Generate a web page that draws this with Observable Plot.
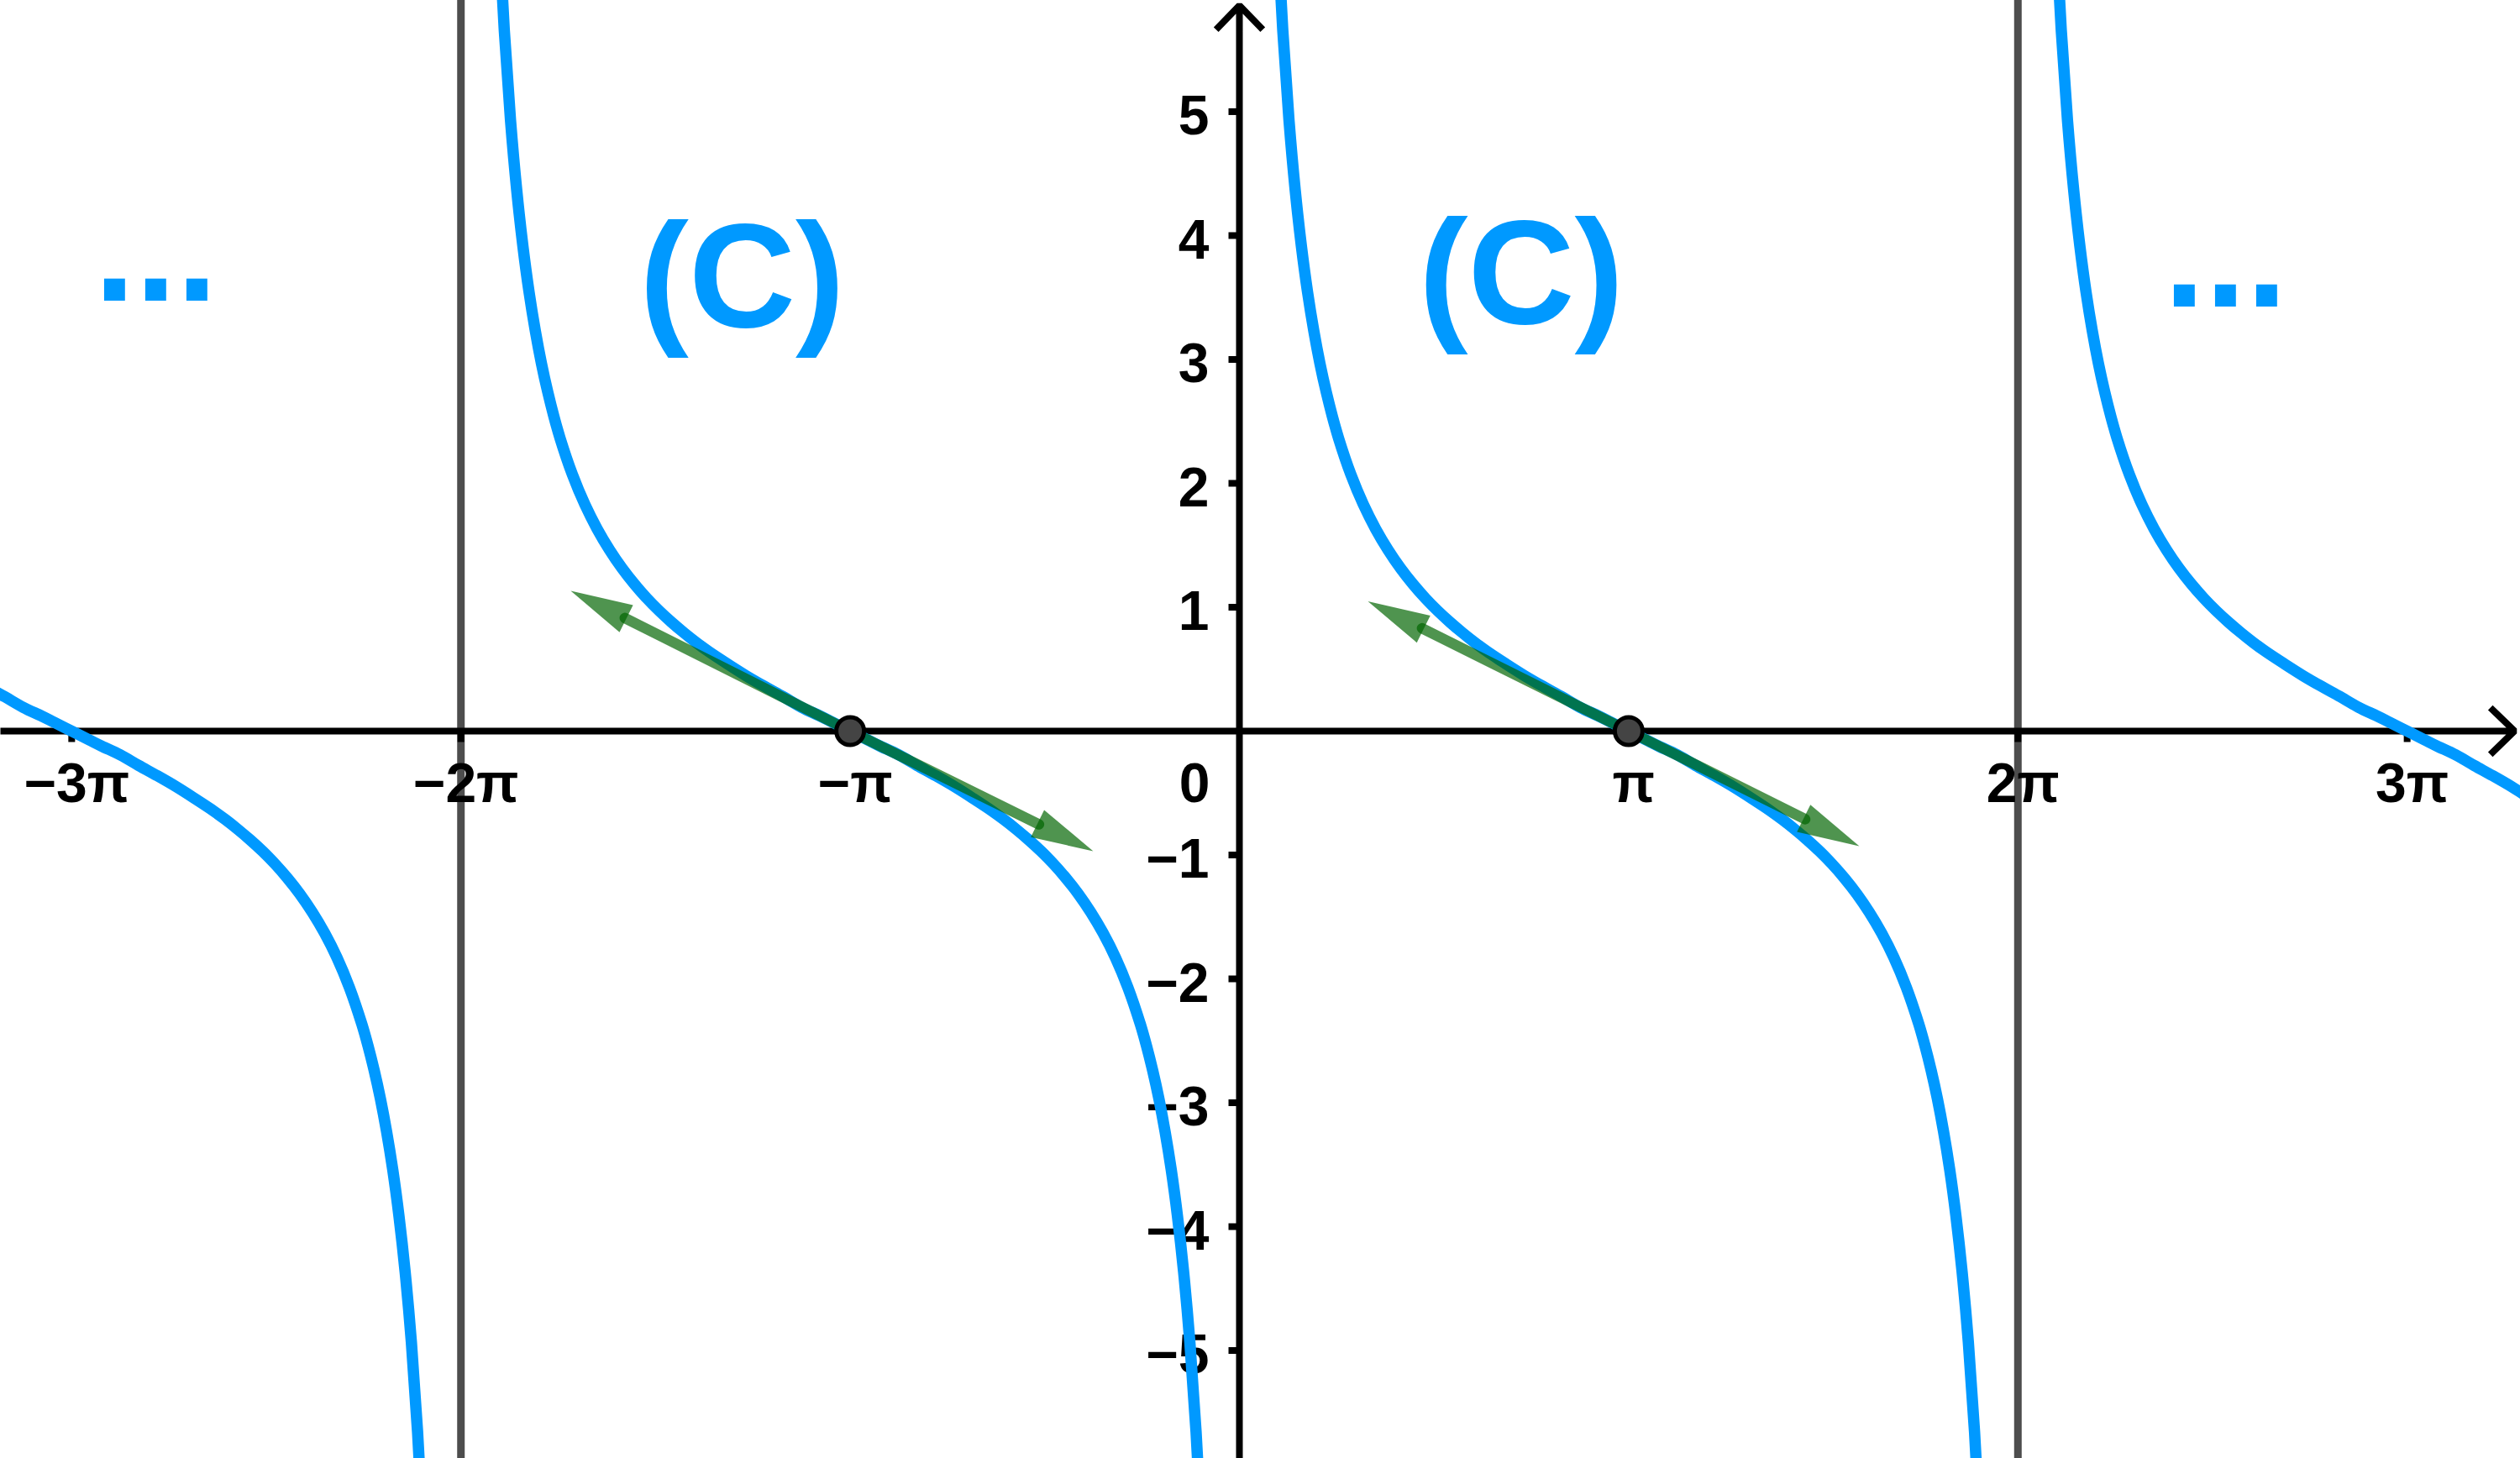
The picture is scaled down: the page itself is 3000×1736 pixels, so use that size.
<!DOCTYPE html>
<html>
<head>
<meta charset="utf-8">
<script src="https://cdn.jsdelivr.net/npm/d3@7"></script>
<script src="https://cdn.jsdelivr.net/npm/@observablehq/plot@0.6"></script>
<style>
  html, body { margin: 0; padding: 0; background: #ffffff; }
  #chart svg { display: block; }
</style>
</head>
<body>
<div id="chart"></div>
<script>
const PI = Math.PI;

const periodX = [0.30, 0.35, 0.40, 0.45, 0.50, 0.55, 0.60, 0.65, 0.70, 0.75, 0.80, 0.90, 1.00, 1.10, 1.20, 1.30, 1.40, 1.50, 1.60, 1.70, 1.80, 1.90, 2.00, 2.15, 2.30, 2.45, 2.60, 2.75, 2.90, 3.00, 3.1416,
  3.2832, 3.3832, 3.5332, 3.6832, 3.8332, 3.9832, 4.1332, 4.2832, 4.3832, 4.4832, 4.5832, 4.6832, 4.7832, 4.8832, 4.9832, 5.0832, 5.1832, 5.2832, 5.3832, 5.4832, 5.5332, 5.5832, 5.6332, 5.6832, 5.7332, 5.7832, 5.8332, 5.8832, 5.9332, 5.9832];
const periodY = [6.616, 5.656, 4.933, 4.369, 3.916, 3.543, 3.233, 2.967, 2.740, 2.541, 2.365, 2.070, 1.830, 1.631, 1.462, 1.315, 1.187, 1.073, 0.971, 0.879, 0.794, 0.715, 0.642, 0.543, 0.448, 0.361, 0.278, 0.192, 0.121, 0.071, 0,
  -0.071, -0.121, -0.192, -0.278, -0.361, -0.448, -0.543, -0.642, -0.715, -0.794, -0.879, -0.971, -1.073, -1.187, -1.315, -1.462, -1.631, -1.830, -2.070, -2.365, -2.541, -2.740, -2.967, -3.233, -3.543, -3.916, -4.369, -4.933, -5.656, -6.616];
// where each visible branch starts (asymptotes)
const branchStarts = [-4 * PI, -2 * PI, 0, 2 * PI];
const asymptoteX = [-2 * PI, 2 * PI];

// Axes
const xDomain = [-10.0, 10.339];
const yDomain = [-5.871, 5.898];
const xTicks = [-3 * PI, -2 * PI, -PI, PI, 2 * PI, 3 * PI];
const xTickLabels = ["−3π", "−2π", "−π", "π", "2π", "3π"];
const yTicks = [-5, -4, -3, -2, -1, 1, 2, 3, 4, 5];
const yTickLabels = ["−5", "−4", "−3", "−2", "−1", "1", "2", "3", "4", "5"];

// Points on the curve and tangent vectors
const pointX = [-PI, PI];
const pointY = [0, 0];
const tangentFromX = [-PI, -PI, PI, PI];
const tangentFromY = [0, 0, 0, 0];
const tangentToX = [-5.397, -1.180, 1.037, 5.003];
const tangentToY = [1.132, -0.969, 1.047, -0.929];

// Text annotations
const noteText = ["...", "(C)", "(C)", "..."];
const noteX = [-8.746, -4.014, 2.275, 7.959];
const noteY = [3.471, 3.261, 3.288, 3.424];

// ---- build tables ----
const curve = [];
branchStarts.forEach((s, b) => {
  periodX.forEach((t, i) => curve.push({branch: b, x: s + t, y: periodY[i]}));
});
const points = pointX.map((x, i) => ({x, y: pointY[i]}));
const tangents = tangentToX.map((x, i) => ({
  x1: tangentFromX[i], y1: tangentFromY[i], x2: x, y2: tangentToY[i]
}));
const notes = noteText.map((t, i) => ({text: t, x: noteX[i], y: noteY[i]}));

// custom symbols
const tickDown = {draw(ctx) { ctx.moveTo(0, 0); ctx.lineTo(0, 13); }};
const tickLeft = {draw(ctx) { ctx.moveTo(0, 0); ctx.lineTo(-13, 0); }};
const HEAD_LEN = 74, HEAD_HALF = 18;
const arrowHead = {draw(ctx) {
  ctx.moveTo(0, 0);
  ctx.lineTo(HEAD_HALF, HEAD_LEN);
  ctx.lineTo(-HEAD_HALF, HEAD_LEN);
  ctx.closePath();
}};

const BLUE = "#0099ff";
const GREEN = "#006400";
const font = "'Liberation Sans', Arial, Helvetica, sans-serif";

const chart = Plot.plot({
  width: 3000,
  height: 1736,
  margin: 0,
  x: {domain: xDomain, axis: null},
  y: {domain: yDomain, axis: null},
  style: {fontFamily: font, background: "#ffffff"},
  marks: [
    Plot.ruleX(asymptoteX, {x: d => d, stroke: "#4d4d4d", strokeWidth: 9}),
    // x axis
    Plot.arrow([{x1: xDomain[0], y1: 0, x2: xDomain[1], y2: 0}], {
      x1: "x1", y1: "y1", x2: "x2", y2: "y2",
      stroke: "black", strokeWidth: 8, headLength: 7.5, headAngle: 88, insetEnd: 7,
      strokeLinecap: "butt", strokeLinejoin: "miter"
    }),
    // y axis
    Plot.arrow([{x1: 0, y1: yDomain[0], x2: 0, y2: yDomain[1]}], {
      x1: "x1", y1: "y1", x2: "x2", y2: "y2",
      stroke: "black", strokeWidth: 8, headLength: 7.5, headAngle: 88, insetEnd: 6,
      strokeLinecap: "butt", strokeLinejoin: "miter"
    }),
    Plot.dot(xTicks, {x: d => d, y: 0, symbol: tickDown, fill: "none", stroke: "black", strokeWidth: 8}),
    Plot.dot(yTicks, {x: 0, y: d => d, symbol: tickLeft, fill: "none", stroke: "black", strokeWidth: 8}),
    Plot.text(xTicks, {x: d => d, y: 0, text: (d, i) => xTickLabels[i], dx: 6, dy: 63,
      fontSize: 66, fontWeight: "bold", fill: "black", textAnchor: "middle"}),
    Plot.text(yTicks, {x: 0, y: d => d, text: (d, i) => yTickLabels[i], dx: -36, dy: 6,
      fontSize: 66, fontWeight: "bold", fill: "black", textAnchor: "end"}),
    Plot.text(["0"], {x: 0, y: 0, text: d => d, dx: -35, dy: 63,
      fontSize: 66, fontWeight: "bold", fill: "black", textAnchor: "end"}),
    // the curve
    Plot.line(curve, {x: "x", y: "y", z: "branch", stroke: BLUE, strokeWidth: 13.5,
      curve: "catmull-rom", clip: true}),
    // tangent vectors
    Plot.arrow(tangents, {x1: "x1", y1: "y1", x2: "x2", y2: "y2",
      stroke: GREEN, strokeOpacity: 0.69, strokeWidth: 12.5, strokeLinecap: "round",
      headLength: 0, insetEnd: HEAD_LEN - 2}),
    Plot.dot(tangents, {x: "x2", y: "y2", symbol: arrowHead,
      rotate: d => Math.atan2(d.x2 - d.x1, d.y2 - d.y1) * 180 / PI,
      fill: GREEN, fillOpacity: 0.69, stroke: "none"}),
    Plot.dot(points, {x: "x", y: "y", r: 16.5, fill: "#444444", stroke: "black", strokeWidth: 5}),
    // annotations
    Plot.text(notes, {x: "x", y: "y", text: "text", fontSize: 176, fontWeight: "bold",
      fill: BLUE, textAnchor: "middle", lineAnchor: "bottom"})
  ]
});
document.getElementById("chart").appendChild(chart);
</script>
</body>
</html>
